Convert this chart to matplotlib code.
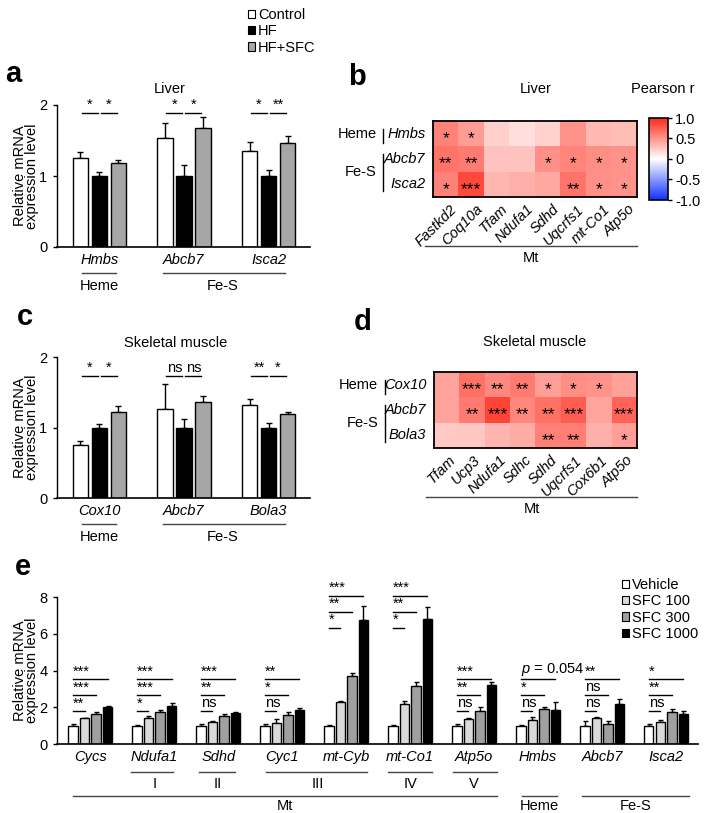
import numpy as np
import matplotlib
matplotlib.use('Agg')
import matplotlib.pyplot as plt
from matplotlib.patches import Patch
from matplotlib.colors import LinearSegmentedColormap
from matplotlib import transforms

plt.rcParams['font.family'] = ['Liberation Sans', 'DejaVu Sans']
plt.rcParams['font.size'] = 10
plt.rcParams['mathtext.fontset'] = 'custom'
plt.rcParams['mathtext.it'] = 'Liberation Sans:italic'
plt.rcParams['mathtext.rm'] = 'Liberation Sans'

# ---- data ----
groups3 = ['Control', 'HF', 'HF+SFC']
colors3 = ['white', 'black', '#a6a6a6']

liver_genes = ['Hmbs', 'Abcb7', 'Isca2']
liver_ctrl = [1.25, 1.54, 1.35]
liver_ctrl_err = [0.09, 0.20, 0.13]
liver_hf = [1.0, 1.0, 1.0]
liver_hf_err = [0.06, 0.16, 0.08]
liver_sfc = [1.19, 1.68, 1.47]
liver_sfc_err = [0.03, 0.15, 0.09]
liver_sig = [('*', '*'), ('*', '*'), ('*', '**')]

muscle_genes = ['Cox10', 'Abcb7', 'Bola3']
muscle_ctrl = [0.745, 1.26, 1.32]
muscle_ctrl_err = [0.065, 0.35, 0.09]
muscle_hf = [1.0, 1.0, 1.0]
muscle_hf_err = [0.05, 0.12, 0.06]
muscle_sfc = [1.22, 1.36, 1.19]
muscle_sfc_err = [0.08, 0.09, 0.025]
muscle_sig = [('*', '*'), ('ns', 'ns'), ('**', '*')]

liver_rows = ['Hmbs', 'Abcb7', 'Isca2']
liver_cols = ['Fastkd2', 'Coq10a', 'Tfam', 'Ndufa1', 'Sdhd', 'Uqcrfs1', 'mt-Co1', 'Atp5o']
liver_r = [[0.58, 0.46, 0.22, 0.15, 0.21, 0.50, 0.33, 0.31],
           [0.65, 0.62, 0.28, 0.28, 0.52, 0.57, 0.53, 0.50],
           [0.58, 0.85, 0.34, 0.37, 0.40, 0.65, 0.52, 0.50]]
liver_r_sig = [['*', '*', '', '', '', '', '', ''],
               ['**', '**', '', '', '*', '*', '*', '*'],
               ['*', '***', '', '', '', '**', '*', '*']]

muscle_rows = ['Cox10', 'Abcb7', 'Bola3']
muscle_cols = ['Tfam', 'Ucp3', 'Ndufa1', 'Sdhc', 'Sdhd', 'Uqcrfs1', 'Cox6b1', 'Atp5o']
muscle_r = [[0.43, 0.67, 0.55, 0.62, 0.45, 0.53, 0.50, 0.44],
            [0.43, 0.62, 0.88, 0.56, 0.67, 0.75, 0.42, 0.73],
            [0.25, 0.26, 0.35, 0.39, 0.59, 0.60, 0.37, 0.45]]
muscle_r_sig = [['', '***', '**', '**', '*', '*', '*', ''],
                ['', '**', '***', '**', '**', '***', '', '***'],
                ['', '', '', '', '**', '**', '', '*']]

dose_groups = ['Vehicle', 'SFC 100', 'SFC 300', 'SFC 1000']
dose_colors = ['white', '#d9d9d9', '#a0a0a0', 'black']
dose_genes = ['Cycs', 'Ndufa1', 'Sdhd', 'Cyc1', 'mt-Cyb', 'mt-Co1', 'Atp5o', 'Hmbs', 'Abcb7', 'Isca2']
dose_vals = [[1.0, 1.0, 1.0, 1.0, 1.0, 1.0, 1.0, 1.0, 1.0, 1.0],
             [1.39, 1.39, 1.19, 1.14, 2.30, 2.15, 1.34, 1.30, 1.41, 1.18],
             [1.63, 1.74, 1.52, 1.57, 3.69, 3.15, 1.81, 1.90, 1.10, 1.74],
             [1.99, 2.06, 1.67, 1.86, 6.73, 6.80, 3.20, 1.83, 2.19, 1.63]]
dose_err = [[0.09, 0.06, 0.10, 0.10, 0.05, 0.04, 0.09, 0.06, 0.23, 0.07],
            [0.04, 0.13, 0.08, 0.20, 0.04, 0.20, 0.09, 0.17, 0.07, 0.14],
            [0.09, 0.11, 0.13, 0.15, 0.16, 0.22, 0.20, 0.13, 0.15, 0.14],
            [0.07, 0.18, 0.05, 0.09, 0.78, 0.66, 0.18, 0.45, 0.25, 0.16]]
dose_sig = [('**', '***', '***'), ('*', '***', '***'), ('ns', '**', '***'),
            ('ns', '*', '**'), ('*', '**', '***'), ('*', '**', '***'),
            ('ns', '**', '***'), ('ns', '*', '$p$ = 0.054'), ('ns', 'ns', '**'),
            ('ns', '**', '*')]

# ---- layout helpers (pixel based) ----
W, H = 709, 813
fig = plt.figure(figsize=(W / 100, H / 100), dpi=100)


def box(l, t, r, b):
    return [l / W, 1 - b / H, (r - l) / W, (b - t) / H]


def fx(px):
    return px / W


def fy(py):
    return 1 - py / H


def style_bar_axes(ax, ymax, ticks):
    ax.spines['top'].set_visible(False)
    ax.spines['right'].set_visible(False)
    ax.spines['left'].set_linewidth(1)
    ax.spines['bottom'].set_linewidth(1.2)
    ax.set_ylim(0, ymax)
    ax.set_yticks(ticks)
    ax.tick_params(axis='x', length=0, labelbottom=False)
    ax.tick_params(axis='y', length=3, width=1, pad=4, labelsize=10.5)
    ax.set_ylabel('Relative mRNA\nexpression level', fontsize=10.5, linespacing=0.85, labelpad=0)


def group_bars(ax, series, errs, colors, step, width, capsize):
    n = len(series)
    x = np.arange(len(series[0]))
    for k in range(n):
        xs = x + (k - (n - 1) / 2) * step
        ax.bar(xs, series[k], width=width, color=colors[k], edgecolor='black', linewidth=1, zorder=2)
        ax.errorbar(xs, series[k], yerr=[np.zeros(len(xs)), errs[k]], fmt='none', ecolor='black',
                    elinewidth=1, capsize=capsize, capthick=1, zorder=1)


def hline(ax, x0, x1, py, lw=1):
    tr = transforms.blended_transform_factory(ax.transData, fig.transFigure)
    ax.plot([x0, x1], [fy(py), fy(py)], color='#444444', lw=lw, transform=tr, clip_on=False)


def label(ax, x, py, s, **kw):
    tr = transforms.blended_transform_factory(ax.transData, fig.transFigure)
    ax.text(x, fy(py), s, transform=tr, ha='center', va='center', fontsize=10.5, **kw)


def three_bar_panel(ax, genes, ctrl, ctrl_err, hf, hf_err, sfc, sfc_err, sig, sig_y, py0):
    style_bar_axes(ax, 2, [0, 1, 2])
    group_bars(ax, [ctrl, hf, sfc], [ctrl_err, hf_err, sfc_err], colors3, 0.225, 0.18, 2.5)
    for i, (s1, s2) in enumerate(sig):
        for c, s in ((i - 0.1125, s1), (i + 0.1125, s2)):
            ax.plot([c - 0.095, c + 0.095], [sig_y, sig_y], color='black', lw=1)
            ax.annotate(s, (c, sig_y), xytext=(0, 1), textcoords='offset points',
                        ha='center', va='bottom', fontsize=10.5)
    for i, g in enumerate(genes):
        label(ax, i, py0, g, style='italic')
    hline(ax, -0.21, 0.2, py0 + 13)
    hline(ax, 0.75, 2.2, py0 + 13)
    label(ax, 0, py0 + 26, 'Heme')
    label(ax, 1.46, py0 + 26, 'Fe-S')
    ax.set_xlim(-0.5, 2.49)
    ax.set_ylim(0, 2)


cmap = LinearSegmentedColormap.from_list('rwb', ['#1030ff', '#ffffff', '#ff2a1a'])


def heat_panel(ax, vals, rows, cols, sig, col_dx):
    im = ax.imshow(np.array(vals), cmap=cmap, vmin=-1, vmax=1, aspect='auto')
    ax.set_xticks([])
    ax.set_yticks([])
    for sp in ax.spines.values():
        sp.set_linewidth(1.3)
    for i in range(len(rows)):
        ax.text(-0.8, i, rows[i], ha='right', va='center', style='italic', fontsize=10.5)
        for j in range(len(cols)):
            if sig[i][j]:
                ax.text(j, i + 0.2, sig[i][j], ha='center', va='center', fontsize=12.5)
    for j in range(len(cols)):
        ax.text(j + col_dx, 2.7, cols[j], rotation=45, rotation_mode='anchor', ha='right', va='top',
                style='italic', fontsize=10.5)
    ax.plot([-2.45, -2.45], [-0.2, 0.35], color='black', lw=1, clip_on=False)
    ax.plot([-2.45, -2.45], [0.8, 2.25], color='black', lw=1, clip_on=False)
    ax.text(-2.7, 0, 'Heme', ha='right', va='center', fontsize=10.5)
    ax.text(-2.7, 1.5, 'Fe-S', ha='right', va='center', fontsize=10.5)
    ax.plot([-0.82, 7.5], [4.44, 4.44], color='#444444', lw=1, clip_on=False)
    ax.text(3.34, 4.9, 'Mt', ha='center', va='center', fontsize=10.5)
    ax.set_xlim(-0.5, 7.5)
    ax.set_ylim(2.5, -0.5)
    return im


# ---- panel a ----
ax_a = fig.add_axes(box(57, 105, 310, 247))
three_bar_panel(ax_a, liver_genes, liver_ctrl, liver_ctrl_err, liver_hf, liver_hf_err,
                liver_sfc, liver_sfc_err, liver_sig, 1.89, 260)
fig.text(fx(170), fy(89), 'Liver', ha='center', va='center', fontsize=10.5)

# ---- panel c ----
ax_c = fig.add_axes(box(57, 357, 310, 498))
three_bar_panel(ax_c, muscle_genes, muscle_ctrl, muscle_ctrl_err, muscle_hf, muscle_hf_err,
                muscle_sfc, muscle_sfc_err, muscle_sig, 1.73, 511)
fig.text(fx(176), fy(343), 'Skeletal muscle', ha='center', va='center', fontsize=10.5)

fig.legend([Patch(facecolor=c, edgecolor='black', linewidth=0.8) for c in colors3], groups3,
           loc='upper left', bbox_to_anchor=(fx(248), fy(8)), bbox_transform=fig.transFigure,
           frameon=False, handlelength=0.5, handleheight=0.5, handletextpad=0.2,
           labelspacing=0.16, borderpad=0, borderaxespad=0, fontsize=10.5)

# ---- panel b ----
ax_b = fig.add_axes(box(433, 121, 637, 197))
im = heat_panel(ax_b, liver_r, liver_rows, liver_cols, liver_r_sig, 0.15)
fig.text(fx(536), fy(89), 'Liver', ha='center', va='center', fontsize=10.5)
fig.text(fx(663), fy(89), 'Pearson r', ha='center', va='center', fontsize=10.5)
cax = fig.add_axes(box(649, 118, 668, 200))
cb = fig.colorbar(im, cax=cax, ticks=[1, 0.5, 0, -0.5, -1])
cb.ax.set_yticklabels(['1.0', '0.5', '0', '-0.5', '-1.0'])
cb.ax.tick_params(labelsize=10.5, length=3, width=1, pad=2)
cb.outline.set_linewidth(1.2)

# ---- panel d ----
ax_d = fig.add_axes(box(434, 372, 637, 448))
heat_panel(ax_d, muscle_r, muscle_rows, muscle_cols, muscle_r_sig, 0.05)
fig.text(fx(535), fy(342), 'Skeletal muscle', ha='center', va='center', fontsize=10.5)

# ---- panel e ----
ax_e = fig.add_axes(box(57, 597, 698, 744))
style_bar_axes(ax_e, 8, [0, 2, 4, 6, 8])
group_bars(ax_e, dose_vals, dose_err, dose_colors, 0.18, 0.148, 1.8)
offs = (np.arange(4) - 1.5) * 0.18
for i, sig in enumerate(dose_sig):
    base = 6.32 if dose_genes[i] in ('mt-Cyb', 'mt-Co1') else 1.79
    for k, s in enumerate(sig):
        y = base + k * 0.87
        ax_e.plot([i + offs[0], i + offs[k + 1]], [y, y], color='black', lw=1, clip_on=False)
        ax_e.annotate(s, (i + offs[0], y), xytext=(0, 0.5), textcoords='offset points',
                      ha='left', va='bottom', fontsize=10.5, annotation_clip=False)
for i, g in enumerate(dose_genes):
    label(ax_e, i, 757, g, style='italic')
for name, x0, x1, xc in [('I', 0.64, 1.3, 1), ('II', 1.7, 2.27, 2), ('III', 2.75, 4.33, 3.55),
                         ('IV', 4.66, 5.34, 5), ('V', 5.67, 6.36, 6)]:
    hline(ax_e, x0, x1, 772)
    label(ax_e, xc, 784, name)
for name, x0, x1 in [('Mt', -0.27, 6.36), ('Heme', 6.75, 7.3), ('Fe-S', 7.69, 9.36)]:
    hline(ax_e, x0, x1, 796)
    label(ax_e, (x0 + x1) / 2, 806, name)
ax_e.set_xlim(-0.52, 9.5)
ax_e.set_ylim(0, 8)
ax_e.legend([Patch(facecolor=c, edgecolor='black', linewidth=0.8) for c in dose_colors], dose_groups,
            loc='upper left', bbox_to_anchor=(fx(622), fy(578)), bbox_transform=fig.transFigure,
            frameon=False, handlelength=0.5, handleheight=0.5, handletextpad=0.2,
            labelspacing=0.16, borderpad=0, borderaxespad=0, fontsize=10.5)

# ---- panel letters ----
for s, x, y in [('a', 5, 82), ('b', 348, 85), ('c', 17, 325), ('d', 354, 330), ('e', 15, 575)]:
    fig.text(fx(x), fy(y), s, fontsize=21, fontweight='bold', ha='left', va='baseline')

fig.savefig('out.png', dpi=100)
